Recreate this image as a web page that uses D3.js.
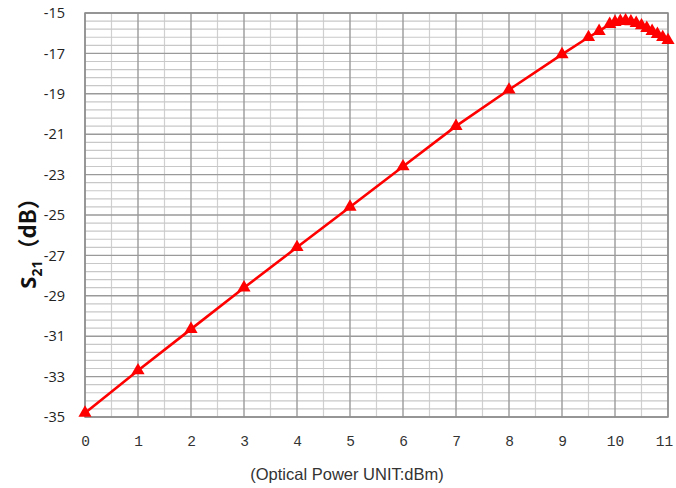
<!DOCTYPE html>
<html>
<head>
<meta charset="utf-8">
<script src="https://cdn.jsdelivr.net/npm/d3@7"></script>
<style>
  body { margin: 0; background: #fff; }
</style>
</head>
<body>
<script>
var svgWidth = 676
var svgHeight = 488

var Margin = {top: 13, right: 8, bottom: 71, left: 85};

// data
var powerX = [0, 1, 2, 3, 4, 5, 6, 7, 8, 9, 9.5, 9.7, 9.9, 10.0, 10.1, 10.2, 10.3, 10.4, 10.5, 10.6, 10.7, 10.8, 10.9, 11.0];
var s21Y = [-34.8, -32.7, -30.65, -28.6, -26.6, -24.6, -22.6, -20.6, -18.8, -17.05, -16.2, -15.9, -15.55, -15.45, -15.4, -15.38, -15.42, -15.5, -15.62, -15.75, -15.9, -16.05, -16.2, -16.35];
var xTicks = [0, 1, 2, 3, 4, 5, 6, 7, 8, 9, 10, 11];
var yTicks = [-35, -33, -31, -29, -27, -25, -23, -21, -19, -17, -15];

var chartWidth = svgWidth - Margin.left - Margin.right;
var chartHeight = svgHeight - Margin.top - Margin.bottom;

var svg = d3.select("body").append("svg")
  .attr("width", svgWidth)
  .attr("height", svgHeight);

var chartGroup = svg.append("g")
  .attr("transform", `translate(${Margin.left}, ${Margin.top})`);

var xScale = d3.scaleLinear().domain([0, 11]).range([0, chartWidth]);
var yScale = d3.scaleLinear().domain([-35, -15]).range([chartHeight, 0]);

// minor grid: every 0.5 on x, every 0.4 on y
var xMinor = d3.range(0, 22).map(d => d * 0.5).filter(d => d % 1 !== 0);
var yMinor = d3.range(0, 51).map(d => -35 + d * 0.4).filter(d => Math.abs((d + 35) / 2 - Math.round((d + 35) / 2)) > 0.01);

chartGroup.append("g").selectAll("line.vminor")
  .data(xMinor).enter().append("line")
  .attr("x1", d => xScale(d)).attr("x2", d => xScale(d))
  .attr("y1", 0).attr("y2", chartHeight)
  .attr("stroke", "#d0d0d0").attr("stroke-width", 1.2);

chartGroup.append("g").selectAll("line.hminor")
  .data(yMinor).enter().append("line")
  .attr("x1", 0).attr("x2", chartWidth)
  .attr("y1", d => yScale(d)).attr("y2", d => yScale(d))
  .attr("stroke", "#c8c8c8").attr("stroke-width", 1.2);

chartGroup.append("g").selectAll("line.vmajor")
  .data(xTicks).enter().append("line")
  .attr("x1", d => xScale(d)).attr("x2", d => xScale(d))
  .attr("y1", 0).attr("y2", chartHeight)
  .attr("stroke", "#9a9a9a").attr("stroke-width", 1.4);

chartGroup.append("g").selectAll("line.hmajor")
  .data(yTicks).enter().append("line")
  .attr("x1", 0).attr("x2", chartWidth)
  .attr("y1", d => yScale(d)).attr("y2", d => yScale(d))
  .attr("stroke", "#9a9a9a").attr("stroke-width", 1.4);

chartGroup.append("rect")
  .attr("width", chartWidth).attr("height", chartHeight)
  .attr("fill", "none").attr("stroke", "#8c8c8c").attr("stroke-width", 1.5);

// axes (labels only)
var bottomAxis = d3.axisBottom(xScale).tickValues(xTicks).tickSize(0).tickPadding(19).tickFormat(d3.format("d"));
var leftAxis = d3.axisLeft(yScale).tickValues(yTicks).tickSize(0).tickPadding(20).tickFormat(d => "-" + Math.abs(d));

var xAxisG = chartGroup.append("g")
  .attr("transform", `translate(0, ${chartHeight})`)
  .call(bottomAxis);
xAxisG.select(".domain").remove();
xAxisG.selectAll("text")
  .attr("font-family", "Liberation Mono, DejaVu Sans Mono, monospace")
  .attr("font-size", 14.5).attr("fill", "#333")
  .attr("dx", d => d === 11 ? -4 : 0);

var yAxisG = chartGroup.append("g").call(leftAxis);
yAxisG.select(".domain").remove();
yAxisG.selectAll("text")
  .attr("font-family", "Open Sans, Liberation Sans, sans-serif")
  .attr("font-size", 14.5).attr("fill", "#222");

// line
var line = d3.line().x((d, i) => xScale(powerX[i])).y(d => yScale(d));
chartGroup.append("path")
  .datum(s21Y)
  .attr("d", line)
  .attr("fill", "none")
  .attr("stroke", "#ff0000")
  .attr("stroke-width", 2.6);

var tri = d3.symbol().type(d3.symbolTriangle).size(75);
chartGroup.selectAll(".marker")
  .data(s21Y).enter().append("path")
  .attr("class", "marker")
  .attr("d", tri)
  .attr("transform", (d, i) => `translate(${xScale(powerX[i])}, ${yScale(d)})`)
  .attr("fill", "#ff0000");

// axis titles
svg.append("text")
  .attr("x", 347)
  .attr("y", 480)
  .attr("text-anchor", "middle")
  .attr("font-family", "Liberation Sans, Arial, sans-serif")
  .attr("font-size", 16.5)
  .attr("fill", "#333")
  .text("(Optical Power UNIT:dBm)");

var yTitle = svg.append("text")
  .attr("transform", "translate(36, 238) rotate(-90)")
  .attr("text-anchor", "middle")
  .attr("font-family", "Open Sans, Liberation Sans, sans-serif")
  .attr("font-weight", "bold")
  .attr("font-size", 22)
  .attr("fill", "#111");
yTitle.append("tspan").text("S");
yTitle.append("tspan").attr("font-size", 14).attr("dy", 6).text("21");
yTitle.append("tspan").attr("dy", -6).attr("font-family", "Noto Sans CJK SC, sans-serif").text("（dB）");
</script>
</body>
</html>
